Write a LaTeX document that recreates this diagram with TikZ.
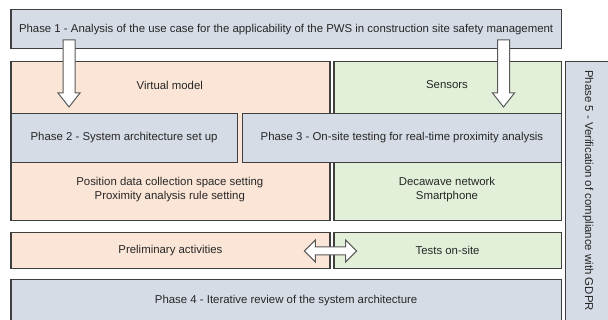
\documentclass[tikz,border=0pt]{standalone}
\usepackage{fontspec}
\setmainfont{Liberation Sans}
\usetikzlibrary{calc}
\definecolor{phasec}{HTML}{D6DCE5}
\definecolor{pinkc}{HTML}{FBE5D6}
\definecolor{greenc}{HTML}{E2F0D9}
\definecolor{edgec}{HTML}{3F3F3F}
\definecolor{txtc}{HTML}{262626}
\definecolor{arrc}{HTML}{595959}
\begin{document}
\begin{tikzpicture}[x=1pt,y=-1pt,
  every node/.style={font=\fontsize{11.4}{14}\selectfont, text=txtc},
  box/.style={draw=edgec, line width=1.2pt, inner sep=0pt, anchor=north west, align=center},
  phasebox/.style={box, fill=phasec},
  pinkbox/.style={box, fill=pinkc},
  greenbox/.style={box, fill=greenc},
  lbl/.style={inner sep=0pt, align=center},
  blockarr/.style={draw=arrc, fill=white, line width=1pt, line join=miter}]
\useasboundingbox (0,0) rectangle (608,320);
\clip (0,0) rectangle (608,320);
\fill[white] (0,0) rectangle (608,320);

% big colored areas
\node[pinkbox, minimum width=319pt, minimum height=159pt] (vm) at (10.3,61) {};
\node[greenbox, minimum width=227.4pt, minimum height=159pt] (sn) at (333.3,61) {};
\node[lbl] (vmt) at (169.8,85) {Virtual model};
\node[lbl] (snt) at (447,85) {Sensors};
\node[lbl] (pos) at (169.8,190) {Position data collection space setting\\Proximity analysis rule setting};
\node[lbl] (dec) at (447,190) {Decawave network\\Smartphone};

% phases
\node[phasebox, minimum width=550.4pt, minimum height=39.3pt] (p1) at (10.3,9)
  {Phase 1 - Analysis of the use case for the applicability of the PWS in construction site safety management};
\node[phasebox, minimum width=226.4pt, minimum height=49pt] (p2) at (10.3,112.7) {Phase 2 - System architecture set up};
\node[phasebox, minimum width=318.7pt, minimum height=49pt] (p3) at (242,112.7) {Phase 3 - On-site testing for real-time proximity analysis};
\node[pinkbox, minimum width=319pt, minimum height=35.5pt] (pre) at (10.3,232.2) {Preliminary activities};
\node[greenbox, minimum width=227.4pt, minimum height=35.5pt] (tst) at (333.3,232.2) {Tests on-site};
\node[phasebox, minimum width=550.4pt, minimum height=42pt] (p4) at (10.3,279.3) {Phase 4 - Iterative review of the system architecture};
\node[phasebox, minimum width=50pt, minimum height=262pt] (p5) at (565,61) {};
\node[lbl, rotate=-90] (p5t) at (588,190.5) {Phase 5 - Verification of compliance with GDPR};

% block arrows
\coordinate (la) at (69,40);
\coordinate (lt) at (69,107);
\coordinate (ra) at (503.5,40);
\coordinate (rt) at (503.5,107);
\draw[blockarr] ($(la)+(-6,0)$) -- ($(lt)+(-6,-14)$) -- ($(lt)+(-11,-14)$) -- (lt)
  -- ($(lt)+(11,-14)$) -- ($(lt)+(6,-14)$) -- ($(la)+(6,0)$) -- cycle;
\draw[blockarr] ($(ra)+(-6,0)$) -- ($(rt)+(-6,-14)$) -- ($(rt)+(-11,-14)$) -- (rt)
  -- ($(rt)+(11,-14)$) -- ($(rt)+(6,-14)$) -- ($(ra)+(6,0)$) -- cycle;

\coordinate (dl) at (304.3,251);
\coordinate (dr) at (356.7,251);
\draw[blockarr] (dl) -- ($(dl)+(11,-11)$) -- ($(dl)+(11,-4)$) -- ($(dr)+(-11,-4)$)
  -- ($(dr)+(-11,-11)$) -- (dr) -- ($(dr)+(-11,11)$) -- ($(dr)+(-11,4)$)
  -- ($(dl)+(11,4)$) -- ($(dl)+(11,11)$) -- cycle;
\end{tikzpicture}
\end{document}
